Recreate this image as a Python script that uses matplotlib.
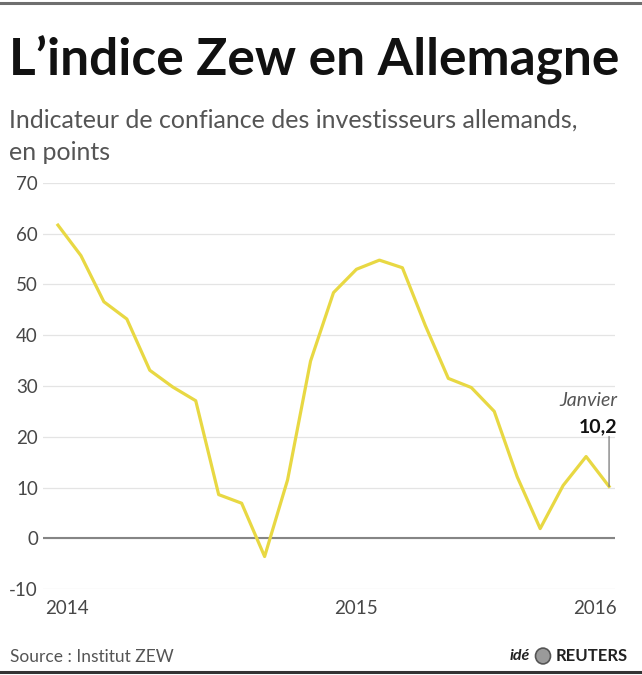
import matplotlib
matplotlib.use('Agg')
import matplotlib.pyplot as plt
from matplotlib.lines import Line2D
from matplotlib.patches import Circle

# Indice ZEW mensuel, janvier 2014 -> janvier 2016
months = list(range(25))
zew = [61.7, 55.7, 46.6, 43.2, 33.1, 29.8, 27.1, 8.6, 6.9, -3.6, 11.5, 34.9,
       48.4, 53.0, 54.8, 53.3, 41.9, 31.5, 29.7, 25.0, 12.1, 1.9, 10.4, 16.1, 10.2]
y_ticks = [-10, 0, 10, 20, 30, 40, 50, 60, 70]
year_labels = ['2014', '2015', '2016']
year_pos = [0.4, 13.0, 23.4]

plt.rcParams['font.family'] = ['Lato', 'DejaVu Sans']

fig = plt.figure(figsize=(6.42, 6.75), dpi=100)
ax = fig.add_axes([0.067, 0.1274, 0.891, 0.6015])

# grille + ligne zéro
for v in y_ticks:
    ax.axhline(v, color='#e4e4e4', lw=0.9, zorder=0)
ax.axhline(0, color='#858585', lw=1.5, zorder=1)

ax.plot(months, zew, color='#e8d843', lw=2.3, zorder=3)

ax.set_ylim(-10, 70)
ax.set_xlim(-0.65, 24.26)
ax.set_yticks(y_ticks)
ax.set_yticklabels([str(v) for v in y_ticks])
ax.set_xticks(year_pos)
ax.set_xticklabels(year_labels)
ax.tick_params(length=0, labelsize=13.5, labelcolor='#474747')
ax.tick_params(axis='y', pad=3.6)
ax.tick_params(axis='x', pad=8)
for s in ax.spines.values():
    s.set_visible(False)

# annotation dernier point
ax.annotate('', xy=(months[-1], zew[-1]), xytext=(0, 36), textcoords='offset points',
            arrowprops=dict(arrowstyle='-', color='#777777', lw=0.9, shrinkA=0, shrinkB=0))
ax.annotate('10,2', xy=(months[-1], zew[-1]), xytext=(6, 43), textcoords='offset points',
            ha='right', va='center', fontsize=14, fontweight='bold', color='#111111')
ax.annotate('Janvier', xy=(months[-1], zew[-1]), xytext=(6, 62), textcoords='offset points',
            ha='right', va='center', fontsize=14, style='italic',
            color='#555555')

# titres
fig.text(0.014, 1 - 60 / 675, 'L\u2019indice Zew en Allemagne', fontsize=37,
         fontweight='bold', color='#111111', va='center', ha='left')
fig.text(0.014, 1 - 120 / 675, 'Indicateur de confiance des investisseurs allemands,',
         fontsize=18, color='#555555', va='center', ha='left')
fig.text(0.014, 1 - 153 / 675, 'en points',
         fontsize=18, color='#555555', va='center', ha='left')

# pied de page
fig.text(0.016, 1 - 657 / 675, 'Source : Institut ZEW', fontsize=12.5,
         color='#555555', va='center', ha='left')
fig.text(0.978, 1 - 656 / 675, 'REUTERS', fontsize=12, fontweight='bold',
         color='#222222', va='center', ha='right')
fig.text(0.825, 1 - 656 / 675, 'idé', fontsize=11.5, fontweight='bold', style='italic',
         color='#222222', va='center', ha='right')
fig.add_artist(Circle((543 / 642, 1 - 656 / 675), 7.5 / 642, transform=fig.transFigure,
                      facecolor='#9a9a9a', edgecolor='#555555', lw=1.2))

# filets haut / bas
fig.add_artist(Line2D([0, 1], [1 - 3 / 675, 1 - 3 / 675], transform=fig.transFigure,
                      color='#6f6f6f', lw=2.2))
fig.add_artist(Line2D([0, 1], [1 - 672 / 675, 1 - 672 / 675], transform=fig.transFigure,
                      color='#333333', lw=2.2))

fig.savefig('out.png', dpi=100)
